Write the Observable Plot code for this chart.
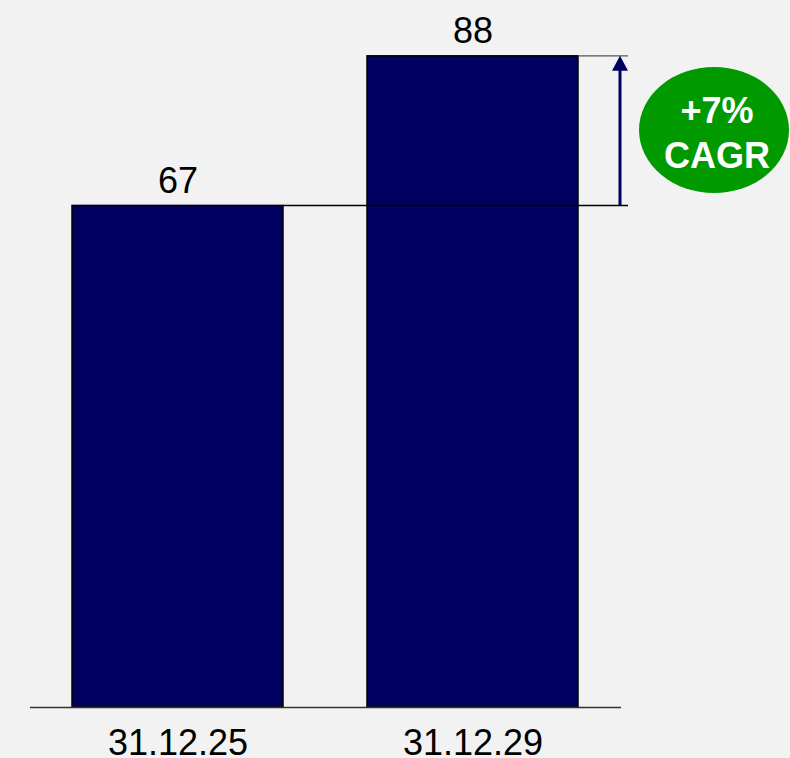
<!DOCTYPE html>
<html>
<head>
<meta charset="utf-8">
<script src="https://cdn.jsdelivr.net/npm/d3@7"></script>
<script src="https://cdn.jsdelivr.net/npm/@observablehq/plot@0.6"></script>
<style>
  html, body { margin: 0; padding: 0; background: #f2f2f2; }
  #chart { width: 790px; height: 758px; overflow: hidden; }
</style>
</head>
<body>
<div id="chart"></div>
<script>
const categories = ["31.12.25", "31.12.29"];
const values = [67.4, 87.5];
const cagrLabel = ["+7%", "CAGR"];

const data = categories.map((c, i) => ({date: c, value: values[i]}));
const fmt = d3.format(".0f");
const font = "'Liberation Sans', Arial, sans-serif";

const plot = Plot.plot({
  width: 790,
  height: 758,
  marginTop: 0,
  marginBottom: 51,
  marginLeft: 30,
  marginRight: 169,
  style: {background: "#f2f2f2", fontFamily: font, overflow: "visible"},
  x: {domain: categories, paddingInner: 0.284, paddingOuter: 0.142, label: null},
  y: {domain: [0, 95], axis: null},
  marks: [
    Plot.barY(data, {x: "date", y: "value", fill: "#000060", stroke: "#000", strokeWidth: 1.5}),
    Plot.ruleY([0], {stroke: "#333", strokeWidth: 1.5}),
    Plot.text(data, {x: "date", y: "value", text: d => fmt(d.value), lineAnchor: "bottom", dy: -13, fontSize: 36, fill: "#000"}),
    Plot.axisX({tickSize: 0, tickPadding: 22, fontSize: 36, fill: "#000", label: null})
  ]
});
document.getElementById("chart").appendChild(plot);

// Annotation derived from the plot's scales
const xs = plot.scale("x"), ys = plot.scale("y");
const svg = d3.select(plot);
const bw = xs.bandwidth;
const x1Right = xs.apply(categories[0]) + bw;
const x2Right = xs.apply(categories[1]) + bw;
const yA = ys.apply(values[0]);
const yB = ys.apply(values[1]);
const arrowX = x2Right + 42;
const lineEnd = arrowX + 8;

const g = svg.append("g");
g.append("line").attr("x1", x1Right).attr("x2", lineEnd).attr("y1", yA).attr("y2", yA)
  .attr("stroke", "#000").attr("stroke-width", 1.5);
g.append("line").attr("x1", x2Right).attr("x2", lineEnd).attr("y1", yB).attr("y2", yB)
  .attr("stroke", "#555").attr("stroke-width", 1.2);
g.append("line").attr("x1", arrowX).attr("x2", arrowX).attr("y1", yA).attr("y2", yB + 12)
  .attr("stroke", "#000060").attr("stroke-width", 3);
g.append("path")
  .attr("d", `M${arrowX},${yB} L${arrowX - 8},${yB + 15} L${arrowX + 8},${yB + 15} Z`)
  .attr("fill", "#000060");

const cx = 714, cy = 130;
g.append("ellipse").attr("cx", cx).attr("cy", cy).attr("rx", 75).attr("ry", 63).attr("fill", "#009900");
g.append("text").attr("x", cx + 3).attr("y", 123).attr("text-anchor", "middle")
  .attr("font-family", font).attr("font-weight", "bold").attr("font-size", 36).attr("fill", "#fff")
  .text(cagrLabel[0]);
g.append("text").attr("x", cx + 3).attr("y", 168).attr("text-anchor", "middle")
  .attr("font-family", font).attr("font-weight", "bold").attr("font-size", 36).attr("fill", "#fff")
  .text(cagrLabel[1]);
</script>
</body>
</html>
